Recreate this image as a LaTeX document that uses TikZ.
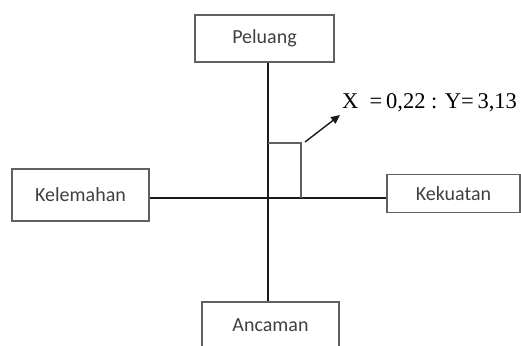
\documentclass[tikz,border=0pt]{standalone}
\usepackage{fontspec}
\setmainfont{Liberation Serif}
\newfontfamily\boxfont{Carlito}
\usetikzlibrary{arrows.meta}
\definecolor{boxgray}{HTML}{606060}
\definecolor{axisblk}{HTML}{1A1A1A}
\tikzset{
  labelbox/.style={draw=boxgray, line width=1.4pt, fill=white, inner sep=0pt,
    font=\boxfont\fontsize{20}{22}\selectfont, text=black!75},
  axisline/.style={draw=axisblk, line width=2pt},
  markbox/.style={draw=boxgray, line width=1.4pt},
  pointer/.style={draw=axisblk, line width=1.4pt, -{Triangle[length=9pt,width=8pt]}}
}
\begin{document}
\begin{tikzpicture}[x=1pt,y=-1pt]
\useasboundingbox (0,0) rectangle (521,345);
\node[labelbox, minimum width=139pt, minimum height=47pt] (pel) at (264.5,38.5) {Peluang};
\node[labelbox, minimum width=137pt, minimum height=46pt] (anc) at (270.5,325) {Ancaman};
\node[labelbox, minimum width=137pt, minimum height=52pt] (kel) at (80.5,195) {Kelemahan};
\node[labelbox, minimum width=133pt, minimum height=38pt] (kek) at (453.5,193.5) {Kekuatan};
\coordinate (o) at (268,198);
\draw[axisline] (pel.south -| o) -- (anc.north -| o);
\draw[axisline] (kel.east |- o) -- (kek.west |- o);
\draw[markbox] (268,143) -| (301,198);
\node[anchor=west, inner sep=0pt, font=\fontsize{22.5}{24}\selectfont] (lbl) at (342,103) {X\ \ =\,0,22 : Y=\,3,13};
\coordinate (ptr) at (305,142);
\draw[pointer] (ptr) -- (340,115);
\end{tikzpicture}
\end{document}
